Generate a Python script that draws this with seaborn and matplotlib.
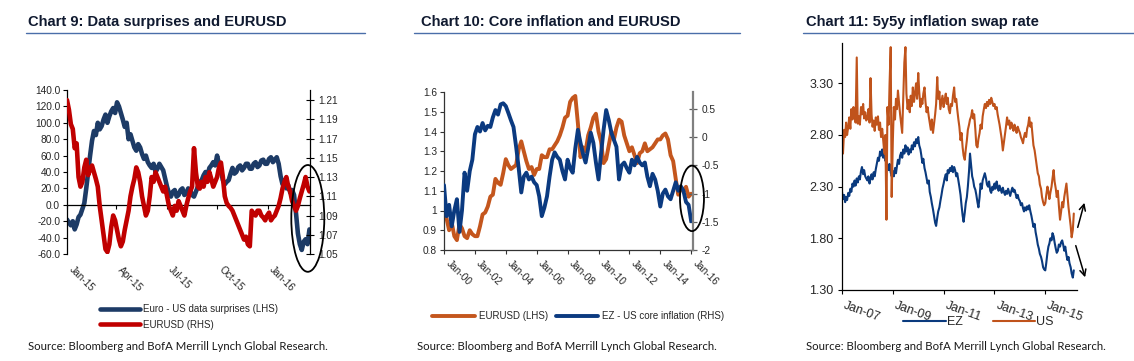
import numpy as np
import pandas as pd
import matplotlib
matplotlib.use("Agg")
import matplotlib.pyplot as plt
import matplotlib.dates as mdates
from matplotlib.ticker import FormatStrFormatter, FixedLocator
from matplotlib.patches import Ellipse
from matplotlib.lines import Line2D
import seaborn as sns

# ---------------- Chart 9 data (every 3.5 days from 2015-01-01) ----------------
c9_start = "2015-01-01"
c9_surprises = [-18, -22, -25, -20, -30, -24, -15, -12, -5, 2,
                20, 40, 60, 78, 90, 85, 100, 92, 96, 104,
                110, 100, 108, 114, 118, 112, 125, 120, 112, 104,
                95, 100, 80, 86, 78, 70, 66, 74, 70, 62,
                56, 60, 52, 48, 45, 50, 40, 44, 50, 46,
                42, 32, 22, 14, 10, 16, 18, 10, 12, 18,
                20, 12, 14, 20, 18, 12, 10, 16, 22, 28,
                30, 36, 40, 36, 45, 48, 52, 48, 60, 50,
                42, 30, 25, 28, 30, 38, 45, 38, 40, 46,
                48, 42, 45, 50, 50, 44, 44, 50, 52, 46,
                48, 54, 55, 50, 50, 56, 58, 52, 55, 58,
                50, 35, 25, 30, 20, 24, 15, 18, 12, -10,
                -35, -48, -55, -45, -42, -48, -30]
c9_eurusd = [1.21, 1.20, 1.185, 1.18, 1.16, 1.165, 1.13, 1.12, 1.125, 1.14,
             1.148, 1.132, 1.138, 1.142, 1.135, 1.128, 1.12, 1.10, 1.085, 1.07,
             1.055, 1.052, 1.06, 1.078, 1.09, 1.085, 1.075, 1.065, 1.058, 1.063,
             1.075, 1.085, 1.095, 1.11, 1.12, 1.128, 1.14, 1.135, 1.125, 1.11,
             1.10, 1.09, 1.095, 1.11, 1.13, 1.125, 1.135, 1.13, 1.125, 1.12,
             1.115, 1.12, 1.11, 1.10, 1.095, 1.09, 1.10, 1.095, 1.105, 1.10,
             1.095, 1.09, 1.10, 1.108, 1.115, 1.12, 1.16, 1.135, 1.12, 1.118,
             1.125, 1.12, 1.13, 1.125, 1.135, 1.128, 1.12, 1.125, 1.13, 1.14,
             1.145, 1.13, 1.11, 1.103, 1.10, 1.098, 1.095, 1.09, 1.085, 1.08,
             1.075, 1.07, 1.065, 1.068, 1.06, 1.058, 1.095, 1.092, 1.09, 1.095,
             1.095, 1.09, 1.088, 1.085, 1.09, 1.093, 1.085, 1.088, 1.09, 1.095,
             1.10, 1.108, 1.118, 1.125, 1.13, 1.12, 1.115, 1.105, 1.10, 1.095,
             1.10, 1.108, 1.115, 1.122, 1.13, 1.12, 1.115]
c9_left_ticks = [-60, -40, -20, 0, 20, 40, 60, 80, 100, 120, 140]
c9_right_ticks = [1.05, 1.07, 1.09, 1.11, 1.13, 1.15, 1.17, 1.19, 1.21]
c9_labels = ["Euro - US data surprises (LHS)", "EURUSD (RHS)"]

# ---------------- Chart 10 data (every 2 months from 2000-01) ----------------
c10_start = "2000-01-01"
c10_eurusd = [1.01, 0.96, 0.90, 0.94, 0.87, 0.85,
              0.93, 0.91, 0.87, 0.86, 0.90, 0.88,
              0.87, 0.87, 0.92, 0.98, 0.99, 1.02,
              1.07, 1.08, 1.16, 1.14, 1.13, 1.19,
              1.26, 1.23, 1.21, 1.22, 1.23, 1.31,
              1.35, 1.30, 1.25, 1.21, 1.22, 1.18,
              1.21, 1.21, 1.28, 1.27, 1.27, 1.31,
              1.31, 1.33, 1.35, 1.38, 1.42, 1.47,
              1.48, 1.55, 1.57, 1.58, 1.44, 1.27,
              1.32, 1.30, 1.38, 1.42, 1.47, 1.49,
              1.40, 1.35, 1.24, 1.26, 1.33, 1.40,
              1.36, 1.42, 1.46, 1.45, 1.38, 1.34,
              1.30, 1.32, 1.28, 1.24, 1.29, 1.30,
              1.34, 1.30, 1.31, 1.32, 1.34, 1.36,
              1.36, 1.38, 1.39, 1.36, 1.28, 1.25,
              1.16, 1.08, 1.11, 1.10, 1.12, 1.07,
              1.085]
c10_core = [-0.85, -1.40, -1.20, -1.58, -1.30, -1.10,
            -1.68, -1.30, -0.63, -0.95, -0.60, -0.40,
            0.05, 0.18, 0.10, 0.25, 0.12, 0.20,
            0.18, 0.35, 0.48, 0.40, 0.58, 0.60,
            0.55, 0.43, 0.30, 0.18, -0.17, -0.55,
            -0.98, -0.70, -0.63, -0.75, -0.70, -0.80,
            -0.85, -1.05, -1.40, -1.25, -1.05, -0.70,
            -0.40, -0.27, -0.35, -0.40, -0.60, -0.75,
            -0.40, -0.55, -0.63, -0.20, 0.13, -0.10,
            -0.30, -0.45, -0.20, 0.08, -0.10, -0.45,
            -0.75, -0.30, 0.13, 0.48, 0.30, 0.08,
            -0.05, -0.17, -0.75, -0.50, -0.45, -0.55,
            -0.63, -0.40, -0.50, -0.35, -0.45, -0.50,
            -0.45, -0.70, -0.87, -0.65, -0.75, -0.95,
            -1.23, -1.00, -0.93, -1.05, -1.10, -0.95,
            -0.80, -0.95, -0.87, -0.95, -1.15, -1.20,
            -1.49]
c10_left_ticks = [0.8, 0.9, 1.0, 1.1, 1.2, 1.3, 1.4, 1.5, 1.6]
c10_right_ticks = [-2, -1.5, -1, -0.5, 0, 0.5]
c10_labels = ["EURUSD (LHS)", "EZ - US core inflation (RHS)"]

# ---------------- Chart 11 data (semi-monthly from 2007-01) ----------------
c11_start = "2007-01-01"
c11_ez = [2.25, 2.18, 2.22, 2.15, 2.20, 2.17, 2.24, 2.21, 2.28, 2.25, 2.33, 2.30, 2.36, 2.31, 2.38, 2.34, 2.40, 2.37, 2.45, 2.49, 2.42, 2.46, 2.40, 2.38,
          2.36, 2.40, 2.33, 2.38, 2.42, 2.37, 2.44, 2.40, 2.47, 2.52, 2.58, 2.55, 2.64, 2.60, 2.66, 2.58, 2.62, 2.55, 2.57, 2.50, 2.46, 2.52, 2.44, 2.40,
          2.45, 2.40, 2.48, 2.43, 2.50, 2.56, 2.52, 2.60, 2.63, 2.58, 2.66, 2.62, 2.70, 2.64, 2.68, 2.61, 2.66, 2.63, 2.70, 2.66, 2.73, 2.69, 2.76, 2.72,
          2.78, 2.70, 2.66, 2.60, 2.53, 2.57, 2.48, 2.44, 2.38, 2.33, 2.36, 2.25, 2.20, 2.14, 2.08, 2.02, 1.95, 1.92, 2.00, 2.06, 2.10, 2.16, 2.22, 2.28,
          2.33, 2.38, 2.42, 2.36, 2.46, 2.43, 2.48, 2.45, 2.50, 2.44, 2.49, 2.46, 2.40, 2.43, 2.36, 2.30, 2.22, 2.12, 2.02, 1.96, 2.05, 2.14, 2.20, 2.30,
          2.45, 2.62, 2.50, 2.40, 2.36, 2.30, 2.27, 2.22, 2.15, 2.10, 2.20, 2.33, 2.28, 2.36, 2.40, 2.43, 2.38, 2.32, 2.30, 2.35, 2.26, 2.24, 2.30, 2.27,
          2.33, 2.28, 2.35, 2.30, 2.26, 2.31, 2.27, 2.24, 2.29, 2.25, 2.22, 2.26, 2.23, 2.28, 2.24, 2.21, 2.26, 2.29, 2.25, 2.27, 2.23, 2.19, 2.22, 2.18,
          2.16, 2.12, 2.14, 2.09, 2.06, 2.10, 2.07, 2.11, 2.08, 2.12, 2.06, 2.02, 1.96, 1.91, 1.94, 1.86, 1.80, 1.74, 1.70, 1.65, 1.62, 1.58, 1.52, 1.50,
          1.49, 1.56, 1.66, 1.72, 1.75, 1.80, 1.78, 1.85, 1.82, 1.76, 1.70, 1.66, 1.68, 1.74, 1.72, 1.76, 1.78, 1.74, 1.68, 1.72, 1.64, 1.59, 1.62, 1.56,
          1.52, 1.46, 1.42, 1.49]
c11_us = [2.72, 2.62, 2.85, 2.78, 2.92, 2.80, 2.88, 2.97, 2.86, 3.05, 2.95, 3.07, 2.98, 2.92, 3.55, 2.91, 2.98, 2.90, 3.07, 3.00, 3.10, 2.96, 3.02, 2.94,
          2.96, 3.05, 2.92, 3.35, 3.00, 2.88, 2.94, 2.84, 2.97, 2.90, 2.98, 2.85, 2.92, 2.78, 2.86, 2.75, 2.62, 2.80, 1.98, 3.07, 2.90, 3.30, 3.65, 2.20,
          2.75, 3.07, 2.95, 3.15, 3.05, 3.23, 3.10, 3.00, 2.90, 2.82, 3.20, 3.50, 3.65, 3.20, 3.05, 3.14, 3.02, 3.18, 3.08, 3.26, 3.12, 3.20, 3.30, 3.15,
          3.40, 3.22, 3.07, 3.15, 3.10, 3.20, 3.26, 3.12, 3.02, 3.07, 2.98, 2.92, 2.85, 2.95, 2.82, 2.90, 3.00, 3.10, 3.36, 3.15, 3.22, 3.05, 3.12, 3.18,
          3.07, 3.14, 3.20, 3.10, 3.16, 3.05, 3.01, 3.10, 3.08, 3.18, 3.26, 3.12, 3.15, 3.05, 2.95, 2.88, 2.75, 2.82, 2.68, 2.60, 2.56, 2.66, 2.75, 2.85,
          2.90, 2.95, 2.98, 3.04, 2.96, 3.00, 2.85, 2.70, 2.68, 2.76, 2.82, 2.90, 2.86, 2.98, 3.05, 3.10, 3.06, 3.12, 3.08, 3.14, 3.10, 3.16, 3.12, 3.08,
          3.10, 3.05, 3.07, 3.00, 2.95, 2.90, 2.82, 2.76, 2.65, 2.72, 2.80, 2.88, 2.97, 2.90, 2.94, 2.86, 2.92, 2.88, 2.84, 2.90, 2.86, 2.82, 2.88, 2.85,
          2.82, 2.78, 2.75, 2.72, 2.78, 2.82, 2.78, 2.86, 2.90, 2.97, 2.88, 2.92, 2.80, 2.70, 2.65, 2.58, 2.50, 2.43, 2.40, 2.32, 2.28, 2.20, 2.15, 2.12,
          2.14, 2.22, 2.30, 2.25, 2.18, 2.24, 2.30, 2.38, 2.46, 2.35, 2.28, 2.20, 2.26, 2.12, 1.98, 2.05, 2.15, 2.10, 2.20, 2.26, 2.33, 2.22, 2.10, 2.02,
          1.92, 1.81, 1.88, 2.04]
c11_ticks = [1.30, 1.80, 2.30, 2.80, 3.30]
c11_xticks = ["2007-01-01", "2009-01-01", "2011-01-01", "2013-01-01", "2015-01-01"]
c11_labels = ["EZ", "US"]

titles = ["Chart 9: Data surprises and EURUSD",
          "Chart 10: Core inflation and EURUSD",
          "Chart 11: 5y5y inflation swap rate"]
source = "Source: Bloomberg and BofA Merrill Lynch Global Research."

# ---------------- style ----------------
sns.set_theme(style="white")
plt.rcParams["font.family"] = ["Liberation Sans", "DejaVu Sans"]
plt.rcParams["axes.linewidth"] = 0.9

W, H = 1134, 361
fig = plt.figure(figsize=(W / 100, H / 100), dpi=100)


def fx(px):
    return px / W


def fy(py):
    return 1 - py / H


def axes_box(l, t, r, b):
    return [fx(l), fy(b), (r - l) / W, (b - t) / H]


TITLE_FONT = ["Liberation Sans", "DejaVu Sans"]
SRC_FONT = ["Lato", "DejaVu Sans"]
UNDERLINE = "#4a6ea9"

for (tx, ux0, ux1), title in zip([(28, 26, 365), (421, 414, 740), (806, 803, 1134)], titles):
    fig.text(fx(tx), fy(22), title, fontsize=10.6, fontweight="bold", color="#101a30",
             family=TITLE_FONT, ha="left", va="center")
    fig.add_artist(Line2D([fx(ux0), fx(ux1)], [fy(32.5), fy(32.5)], transform=fig.transFigure,
                          color=UNDERLINE, lw=1.0))
for sx in [28, 417, 806]:
    fig.text(fx(sx), fy(347), source, fontsize=8.2, color="#1a1a1a", family=SRC_FONT,
             ha="left", va="center")

# ================= Chart 9 =================
C9_BLUE, C9_RED = "#1d3b66", "#c00000"
d9 = pd.date_range(c9_start, periods=len(c9_surprises), freq="84h")
df9 = pd.DataFrame({"date": d9, "surprises": c9_surprises, "eurusd": c9_eurusd})

ax9 = fig.add_axes(axes_box(67, 90, 310, 254))
sns.lineplot(data=df9, x="date", y="surprises", ax=ax9, color=C9_BLUE, lw=3.3, legend=False)
ax9r = ax9.twinx()
sns.lineplot(data=df9, x="date", y="eurusd", ax=ax9r, color=C9_RED, lw=3.3, legend=False)

ax9.set_xlim(pd.Timestamp("2015-01-01"), pd.Timestamp("2016-03-18"))
ax9.set_ylim(-60, 140)
ax9.yaxis.set_major_locator(FixedLocator(c9_left_ticks))
ax9.yaxis.set_major_formatter(FormatStrFormatter("%.1f"))
ax9r.set_ylim(1.05, 1.2205)
ax9r.yaxis.set_major_locator(FixedLocator(c9_right_ticks))
ax9r.yaxis.set_major_formatter(FormatStrFormatter("%.2f"))
ax9.xaxis.set_major_locator(mdates.MonthLocator(bymonth=[1, 4, 7, 10]))
ax9.xaxis.set_major_formatter(mdates.DateFormatter("%b-%y"))
for a in (ax9, ax9r):
    a.set_xlabel("")
    a.set_ylabel("")
    a.spines["top"].set_visible(False)
ax9.spines["right"].set_visible(False)
ax9.spines["bottom"].set_position(("data", 0))
ax9.spines["bottom"].set_color("black")
ax9.spines["left"].set_color("black")
ax9r.spines["left"].set_visible(False)
ax9r.spines["bottom"].set_visible(False)
ax9r.spines["right"].set_color("black")
ax9.tick_params(axis="y", direction="out", length=3, width=0.8, color="black", labelsize=7.3, pad=2)
ax9.tick_params(axis="x", direction="out", length=3, width=0.8, color="black", labelsize=7.3, pad=40,
                bottom=True)
ax9r.tick_params(axis="y", direction="inout", length=6, width=0.8, color="black", labelsize=7.3, pad=3,
                 right=True)
for lab in ax9.get_xticklabels():
    lab.set_rotation(-45)
    lab.set_ha("left")
ax9r.add_patch(Ellipse((mdates.date2num(pd.Timestamp("2016-03-14")), 1.087), width=60, height=0.111,
                       fill=False, lw=1.3, ec="black", clip_on=False, zorder=5))
fig.legend(handles=[ax9.lines[0], ax9r.lines[0]], labels=c9_labels, loc="upper left",
           bbox_to_anchor=(fx(100), fy(304)), bbox_transform=fig.transFigure, frameon=False,
           fontsize=7, handlelength=4.1, handletextpad=0.35, labelspacing=0.6,
           borderpad=0, borderaxespad=0)

# ================= Chart 10 =================
C10_ORANGE, C10_BLUE = "#c4561d", "#0b3a80"
d10 = pd.date_range(c10_start, periods=len(c10_eurusd), freq="2MS")
df10 = pd.DataFrame({"date": d10, "eurusd": c10_eurusd, "core": c10_core})

ax10 = fig.add_axes(axes_box(444, 92, 693, 250))
sns.lineplot(data=df10, x="date", y="eurusd", ax=ax10, color=C10_ORANGE, lw=2.8, legend=False)
ax10r = ax10.twinx()
sns.lineplot(data=df10, x="date", y="core", ax=ax10r, color=C10_BLUE, lw=2.8, legend=False)
ax10.set_xlim(pd.Timestamp("2000-01-01"), pd.Timestamp("2016-02-13"))
ax10.set_ylim(0.8, 1.6)
ax10.yaxis.set_major_locator(FixedLocator(c10_left_ticks))
ax10.yaxis.set_major_formatter(FormatStrFormatter("%g"))
ax10r.set_ylim(-2, 0.8)
ax10r.yaxis.set_major_locator(FixedLocator(c10_right_ticks))
ax10r.yaxis.set_major_formatter(FormatStrFormatter("%g"))
ax10.xaxis.set_major_locator(mdates.YearLocator(2))
ax10.xaxis.set_major_formatter(mdates.DateFormatter("%b-%y"))
for a in (ax10, ax10r):
    a.set_xlabel("")
    a.set_ylabel("")
    a.spines["top"].set_visible(False)
ax10.spines["right"].set_visible(False)
ax10.spines["left"].set_color("#333333")
ax10.spines["bottom"].set_color("#333333")
ax10r.spines["left"].set_visible(False)
ax10r.spines["bottom"].set_visible(False)
ax10r.spines["right"].set_color("#808080")
ax10r.spines["right"].set_linewidth(1.6)
ax10.tick_params(axis="y", direction="out", length=3, width=0.8, color="#333333", labelsize=7.3, pad=2)
ax10.tick_params(axis="x", direction="out", length=3, width=0.8, color="#333333", labelsize=7.3, pad=3,
                 bottom=True)
ax10r.tick_params(axis="y", direction="inout", length=6, width=0.9, color="#606060", labelsize=7.3, pad=3,
                  right=True)
for lab in ax10.get_xticklabels():
    lab.set_rotation(-45)
    lab.set_ha("left")
ax10r.add_patch(Ellipse((mdates.date2num(pd.Timestamp("2016-01-20")), -1.085), width=567, height=1.16,
                        fill=False, lw=1.3, ec="black", clip_on=False, zorder=5))
fig.legend(handles=[ax10.lines[0], ax10r.lines[0]], labels=c10_labels, loc="center left",
           bbox_to_anchor=(fx(432), fy(316)), bbox_transform=fig.transFigure, frameon=False,
           fontsize=7, ncol=2, handlelength=4.4, handletextpad=0.4, columnspacing=0.8,
           borderpad=0, borderaxespad=0)

# ================= Chart 11 =================
C11_BLUE, C11_ORANGE = "#0a3a7e", "#c0531b"
d11 = pd.date_range(c11_start, periods=len(c11_ez), freq="SMS")
df11 = pd.DataFrame({"date": d11, "EZ": c11_ez, "US": c11_us})

ax11 = fig.add_axes(axes_box(842, 43, 1077, 290))
sns.lineplot(data=df11, x="date", y="EZ", ax=ax11, color=C11_BLUE, lw=1.5, legend=False)
sns.lineplot(data=df11, x="date", y="US", ax=ax11, color=C11_ORANGE, lw=1.5, legend=False)
ax11.set_xlim(pd.Timestamp("2007-01-01"), pd.Timestamp("2016-04-01"))
ax11.set_ylim(1.30, 3.69)
ax11.yaxis.set_major_locator(FixedLocator(c11_ticks))
ax11.yaxis.set_major_formatter(FormatStrFormatter("%.2f"))
ax11.set_xticks(pd.to_datetime(c11_xticks))
ax11.xaxis.set_major_formatter(mdates.DateFormatter("%b-%y"))
ax11.set_xlabel("")
ax11.set_ylabel("")
ax11.spines["top"].set_visible(False)
ax11.spines["right"].set_visible(False)
ax11.spines["left"].set_color("black")
ax11.spines["bottom"].set_color("black")
ax11.tick_params(axis="y", direction="out", length=3, width=0.8, color="black", labelsize=9, pad=3,
                 left=True)
ax11.tick_params(axis="x", direction="out", length=3, width=0.8, color="black", labelsize=9, pad=4,
                 bottom=True)
for lab in ax11.get_xticklabels():
    lab.set_rotation(-20)
    lab.set_ha("left")
arrow = dict(arrowstyle="->", lw=1.1, color="black", mutation_scale=11)
ax11.annotate("", xy=(mdates.date2num(pd.Timestamp("2016-07-27")), 2.17),
              xytext=(mdates.date2num(pd.Timestamp("2016-04-01")), 1.88),
              arrowprops=arrow, annotation_clip=False)
ax11.annotate("", xy=(mdates.date2num(pd.Timestamp("2016-08-07")), 1.397),
              xytext=(mdates.date2num(pd.Timestamp("2016-03-03")), 1.755),
              arrowprops=arrow, annotation_clip=False)
fig.legend(handles=[ax11.lines[0], ax11.lines[1]], labels=c11_labels, loc="center left",
           bbox_to_anchor=(fx(903), fy(322)), bbox_transform=fig.transFigure, frameon=False,
           fontsize=9, ncol=2, handlelength=3.4, handletextpad=0.1, columnspacing=2.4,
           borderpad=0, borderaxespad=0)

fig.savefig("out.png", dpi=100, facecolor="white")
